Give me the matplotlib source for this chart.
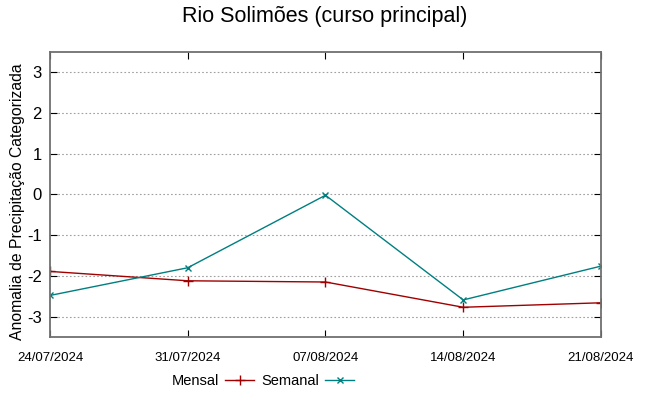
import numpy as np
import pandas as pd
import matplotlib
matplotlib.use("Agg")
import matplotlib.pyplot as plt
import matplotlib.dates as mdates

datas = ["2024-07-24", "2024-07-31", "2024-08-07", "2024-08-14", "2024-08-21"]
mensal = [-1.89, -2.12, -2.15, -2.77, -2.66]
semanal = [-2.48, -1.80, -0.02, -2.59, -1.76]
yticks = [-3, -2, -1, 0, 1, 2, 3]

x = pd.to_datetime(datas)

plt.rcParams['font.family'] = ['Liberation Sans', 'DejaVu Sans']
plt.rcParams['axes.unicode_minus'] = False

fig = plt.figure(figsize=(6.49, 3.96), dpi=100)
ax = fig.add_axes([0.077, 0.149, 0.849, 0.72])

ax.plot(x, mensal, color='#a00000', lw=1, marker='+', ms=7, mew=1, label='Mensal')
ax.plot(x, semanal, color='#007f80', lw=1, marker='x', ms=5, mew=1, label='Semanal')

ax.set_xlim(x[0], x[-1])
ax.set_ylim(-3.5, 3.5)
ax.set_yticks(yticks)
ax.set_xticks(x)
ax.xaxis.set_major_formatter(mdates.DateFormatter('%d/%m/%Y'))
ax.yaxis.grid(True, linestyle=(0, (1.5, 2)), color='#a0a0a0', lw=0.8)

ax.tick_params(axis='y', direction='in', left=True, right=True, length=5, labelsize=12, pad=6)
ax.tick_params(axis='x', direction='in', bottom=True, top=True, length=5, labelsize=9.5, pad=11)
for s in ax.spines.values():
    s.set_color('#707070')
    s.set_linewidth(1.3)

ax.set_ylabel('Anomalia de Precipitação Categorizada', fontsize=11.3)
ax.yaxis.set_label_coords(-0.045, 0.475)
fig.suptitle('Rio Solimões (curso principal)', fontsize=15.5, y=0.985)

fig.legend(handles=ax.get_lines(), loc='center', bbox_to_anchor=(263 / 649, 1 - 381 / 396),
           ncol=2, frameon=False, markerfirst=False, fontsize=10.5, handlelength=2.0,
           columnspacing=0.5, handletextpad=0.4)

fig.savefig('out.png', dpi=100)
